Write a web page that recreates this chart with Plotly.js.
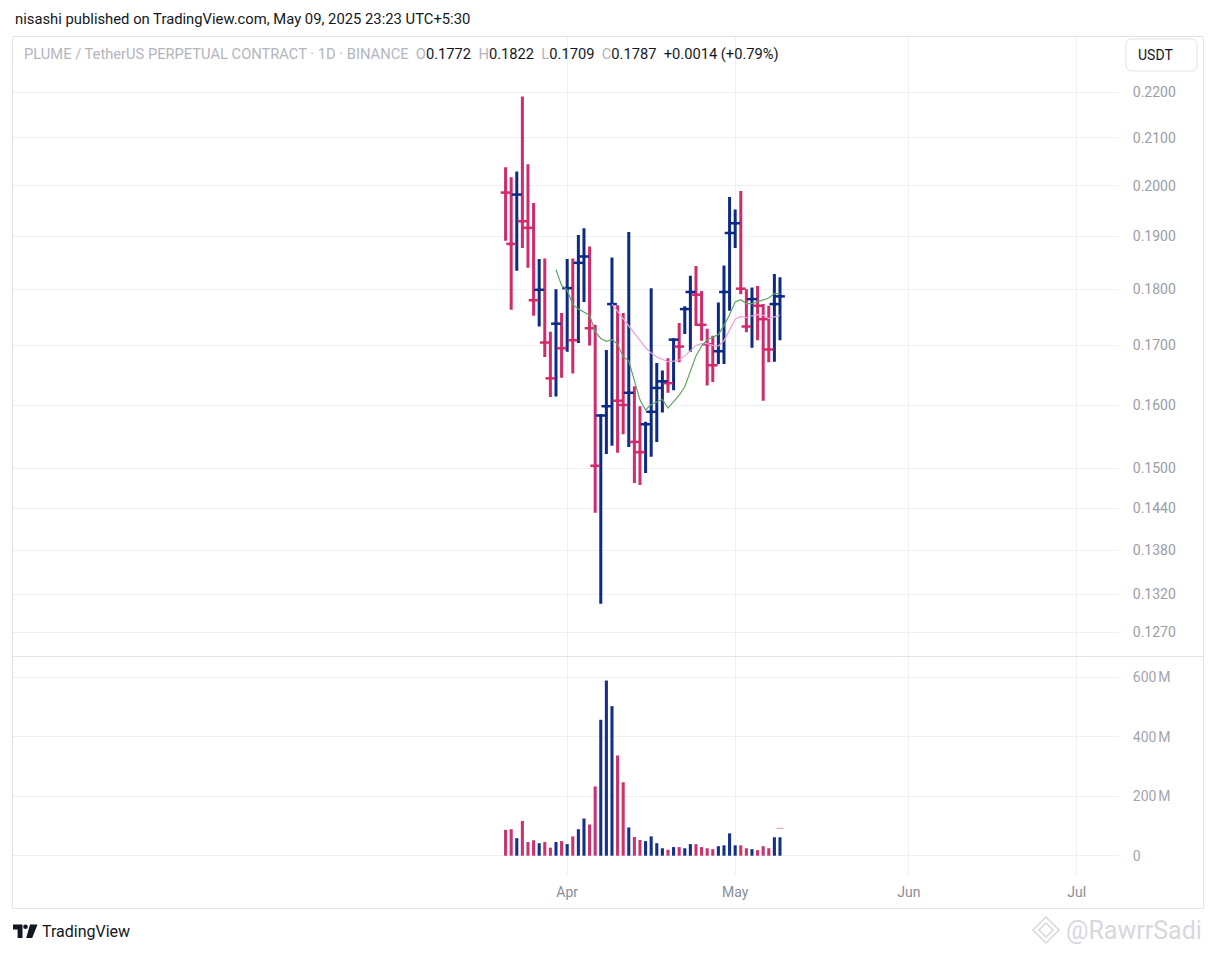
<!DOCTYPE html>
<html><head><meta charset="utf-8">
<script src="https://cdn.plot.ly/plotly-3.0.1.min.js"></script>
<style>html,body{margin:0;padding:0;background:#fff;}#chart{width:1216px;height:953px;}</style>
</head><body><div id="chart"></div>
<script>
const dates = [
'2025-03-21','2025-03-22','2025-03-23','2025-03-24','2025-03-25','2025-03-26','2025-03-27','2025-03-28','2025-03-29','2025-03-30','2025-03-31',
'2025-04-01','2025-04-02','2025-04-03','2025-04-04','2025-04-05','2025-04-06','2025-04-07','2025-04-08','2025-04-09','2025-04-10',
'2025-04-11','2025-04-12','2025-04-13','2025-04-14','2025-04-15','2025-04-16','2025-04-17','2025-04-18','2025-04-19','2025-04-20',
'2025-04-21','2025-04-22','2025-04-23','2025-04-24','2025-04-25','2025-04-26','2025-04-27','2025-04-28','2025-04-29','2025-04-30',
'2025-05-01','2025-05-02','2025-05-03','2025-05-04','2025-05-05','2025-05-06','2025-05-07','2025-05-08','2025-05-09'];
const high = [0.2038,0.2017,0.2029,0.2190,0.2044,0.1965,0.1856,0.1857,0.1724,0.1800,0.1757,
0.1856,0.1857,0.1902,0.1915,0.1880,0.1736,0.1585,0.1692,0.1859,0.1771,
0.1757,0.1908,0.1631,0.1598,0.1573,0.1802,0.1670,0.1657,0.1678,0.1711,
0.1739,0.1769,0.1825,0.1843,0.1797,0.1729,0.1717,0.1776,0.1844,0.1977,
0.1952,0.1989,0.1800,0.1803,0.1806,0.1773,0.1770,0.1828,0.1822];
const low = [0.1891,0.1763,0.1834,0.1877,0.1840,0.1752,0.1733,0.1680,0.1613,0.1614,0.1645,
0.1689,0.1652,0.1704,0.1777,0.1700,0.1434,0.1307,0.1522,0.1535,0.1524,
0.1553,0.1533,0.1478,0.1475,0.1493,0.1518,0.1541,0.1588,0.1620,0.1624,
0.1671,0.1720,0.1689,0.1734,0.1708,0.1632,0.1638,0.1668,0.1668,0.1761,
0.1877,0.1791,0.1723,0.1696,0.1709,0.1607,0.1671,0.1672,0.1709];
const close = [0.1986,0.1885,0.1982,0.1929,0.1916,0.1780,0.1799,0.1705,0.1644,0.1738,0.1695,
0.1802,0.1709,0.1849,0.1861,0.1730,0.1504,0.1583,0.1598,0.1773,0.1607,
0.1600,0.1620,0.1541,0.1525,0.1569,0.1589,0.1628,0.1639,0.1636,0.1710,
0.1698,0.1764,0.1795,0.1790,0.1736,0.1702,0.1666,0.1690,0.1795,0.1906,
0.1925,0.1801,0.1733,0.1782,0.1770,0.1746,0.1693,0.1773,0.1787];
const lastOpen = 0.1772;
const volumeM = [87,89,59,117,46,52,42,46,27,46,49,
39,65,89,125,105,233,457,589,503,337,
247,95,63,53,49,65,42,25,20,29,
29,25,39,39,29,25,22,32,35,75,
35,35,25,22,19,32,25,62,62];
const ma10 = [0.1836,0.1807,0.1799,0.1772,0.1764,0.1758,0.1753,0.1724,0.1712,0.1707,0.1710,
0.1702,0.1681,0.1673,0.1642,0.1608,0.1592,0.1601,0.1605,0.1609,0.1595,
0.1606,0.1616,0.1630,0.1655,0.1682,0.1699,0.1710,0.1714,0.1719,0.1735,
0.1754,0.1777,0.1781,0.1774,0.1774,0.1777,0.1781,0.1784,0.1792,0.1792];
const ma20 = [0.1773,0.1760,0.1747,0.1734,0.1722,0.1708,0.1696,0.1687,0.1680,0.1676,0.1672,
0.1673,0.1675,0.1682,0.1691,0.1700,0.1703,0.1703,0.1700,0.1699,0.1708,
0.1727,0.1746,0.1751,0.1749,0.1752,0.1754,0.1753,0.1747,0.1750,0.1753];
const volMaDates = ['2025-05-09'];
const volMaM = [92];
const priceTicks = [0.22,0.21,0.20,0.19,0.18,0.17,0.16,0.15,0.144,0.138,0.132,0.127];
const priceTickText = ['0.2200','0.2100','0.2000','0.1900','0.1800','0.1700','0.1600','0.1500','0.1440','0.1380','0.1320','0.1270'];
const volTicks = [0,200,400,600];
const volTickText = ['0','200\u202fM','400\u202fM','600\u202fM'];
const monthTicks = ['2025-04-01','2025-05-01','2025-06-01','2025-07-01'];
const monthText = ['Apr','May','Jun','Jul'];

const W = 1216, H = 953;
const px = x => x / W, py = y => 1 - y / H;
const UP = '#0d2b85', DOWN = '#d02c6d';
const VUP = '#13308a', VDOWN = '#c9336e';

const isUp = close.map((c, i) => i > 0 && c >= close[i - 1]);
const upIdx = [], dnIdx = [];
isUp.forEach((u, i) => (u ? upIdx : dnIdx).push(i));

function ohlcTrace(idx, color) {
  return {
    type: 'ohlc', xaxis: 'x', yaxis: 'y',
    x: idx.map(i => dates[i]),
    open: idx.map(i => close[i]),
    high: idx.map(i => high[i]),
    low: idx.map(i => low[i]),
    close: idx.map(i => close[i]),
    line: {width: 3},
    increasing: {line: {color: color, width: 3}},
    decreasing: {line: {color: color, width: 3}},
    tickwidth: 0.3, hoverinfo: 'skip', showlegend: false
  };
}
function closeTicks(idx, color) {
  return {
    type: 'scatter', mode: 'markers', xaxis: 'x', yaxis: 'y',
    x: idx.map(i => dates[i]), y: idx.map(i => close[i]),
    marker: {symbol: 'line-ew', size: 7, line: {color: color, width: 2.5}},
    hoverinfo: 'skip', showlegend: false
  };
}

const traces = [
  {type: 'bar', xaxis: 'x', yaxis: 'y2', x: dates, y: volumeM,
   width: 0.55 * 86400000,
   marker: {color: isUp.map(u => u ? VUP : VDOWN), line: {width: 0}},
   hoverinfo: 'skip', showlegend: false},
  {type: 'scatter', mode: 'markers', xaxis: 'x', yaxis: 'y2', x: volMaDates, y: volMaM,
   marker: {symbol: 'line-ew', size: 5, line: {color: '#e58fb0', width: 1}},
   hoverinfo: 'skip', showlegend: false},
  ohlcTrace(dnIdx, DOWN),
  ohlcTrace(upIdx, UP),
  closeTicks(dnIdx, DOWN),
  closeTicks(upIdx, UP),
  {type: 'scatter', mode: 'lines', xaxis: 'x', yaxis: 'y', x: dates.slice(19), y: ma20,
   line: {color: '#e6a3d9', width: 1.2}, hoverinfo: 'skip', showlegend: false},
  {type: 'scatter', mode: 'lines', xaxis: 'x', yaxis: 'y', x: dates.slice(9), y: ma10,
   line: {color: '#5fa463', width: 1.2}, hoverinfo: 'skip', showlegend: false}
];

const grid = '#eef0f4';
const L = close.length - 1;
const chg = close[L] - close[L - 1];
const pct = chg / close[L - 1] * 100;
const g = s => '<span style="color:#b2b5be">' + s + '</span>';
const n = v => (+v).toFixed(4);
const legendText = g('PLUME / TetherUS PERPETUAL CONTRACT · 1D · BINANCE') + '\u00a0\u00a0' +
  g('O') + n(lastOpen) + '\u00a0\u00a0' + g('H') + n(high[L]) + '\u00a0\u00a0' +
  g('L') + n(low[L]) + '\u00a0\u00a0' + g('C') + n(close[L]) + '\u00a0\u00a0' +
  (chg >= 0 ? '+' : '') + chg.toFixed(4) + ' (' + (pct >= 0 ? '+' : '') + pct.toFixed(2) + '%)';

function pathPx(p) {
  return p.replace(/([MLHVQZ])([^MLHVQZ]*)/g, function (m, cmd, args) {
    const nums = args.trim().length ? args.trim().split(/[\s,]+/).map(Number) : [];
    let out = [];
    if (cmd === 'H') out = nums.map(v => px(v).toFixed(6));
    else if (cmd === 'V') out = nums.map(v => py(v).toFixed(6));
    else for (let i = 0; i < nums.length; i += 2) out.push(px(nums[i]).toFixed(6) + ',' + py(nums[i + 1]).toFixed(6));
    return cmd + out.join(' ');
  });
}

const F = 'Roboto, "Liberation Sans", sans-serif';
const layout = {
  width: W, height: H,
  margin: {l: 0, r: 0, t: 0, b: 0},
  paper_bgcolor: '#ffffff', plot_bgcolor: '#ffffff',
  showlegend: false, hovermode: false, dragmode: false,
  font: {family: F, size: 14, color: '#131722'},
  xaxis: {
    type: 'date', domain: [px(12), px(1119)],
    range: ['2024-12-22 20:38:00', '2025-07-08 12:58:00'],
    anchor: 'y2', rangeslider: {visible: false},
    tickmode: 'array', tickvals: monthTicks, ticktext: monthText,
    ticks: 'outside', ticklen: 4, tickcolor: 'rgba(0,0,0,0)',
    tickfont: {family: F, size: 14, color: '#8a8d96'},
    showgrid: true, gridcolor: grid, gridwidth: 1,
    showline: false, zeroline: false, fixedrange: true
  },
  yaxis: {
    type: 'log', domain: [py(656), py(36)],
    range: [Math.log10(0.12394), Math.log10(0.23290)],
    side: 'right', anchor: 'x',
    tickmode: 'array', tickvals: priceTicks, ticktext: priceTickText,
    ticks: 'outside', ticklen: 10, tickcolor: 'rgba(0,0,0,0)',
    tickfont: {family: F, size: 14, color: '#9a9da6'},
    showgrid: true, gridcolor: grid, gridwidth: 1,
    showline: false, zeroline: false, fixedrange: true
  },
  yaxis2: {
    domain: [py(875), py(656)],
    range: [-64.9, 671.6],
    side: 'right', anchor: 'x',
    tickmode: 'array', tickvals: volTicks, ticktext: volTickText,
    ticks: 'outside', ticklen: 10, tickcolor: 'rgba(0,0,0,0)',
    tickfont: {family: F, size: 14, color: '#a3a6af'},
    showgrid: true, gridcolor: grid, gridwidth: 1,
    showline: false, zeroline: false, fixedrange: true
  },
  shapes: [
    {type: 'rect', xref: 'paper', yref: 'paper', x0: px(12.5), x1: px(1203.5), y0: py(36.5), y1: py(908.5),
     line: {color: '#e0e3eb', width: 1}, fillcolor: 'rgba(0,0,0,0)', layer: 'above'},
    {type: 'line', xref: 'paper', yref: 'paper', x0: px(12.5), x1: px(1203.5), y0: py(656.5), y1: py(656.5),
     line: {color: '#e0e3eb', width: 1}},
    {type: 'path', xref: 'paper', yref: 'paper',
     path: pathPx('M1132,39 H1191 Q1197,39 1197,45 V65 Q1197,71 1191,71 H1132 Q1126,71 1126,65 V45 Q1126,39 1132,39 Z'),
     line: {color: '#e0e3eb', width: 1}, fillcolor: '#ffffff', layer: 'above'},
    {type: 'path', xref: 'paper', yref: 'paper',
     path: pathPx('M13,924.5 H22.5 V938 H17.6 V929.4 H13 Z'),
     line: {width: 0}, fillcolor: '#131722'},
    {type: 'circle', xref: 'paper', yref: 'paper', x0: px(23.2), x1: px(27.8), y0: py(924.5), y1: py(929.1),
     line: {width: 0}, fillcolor: '#131722'},
    {type: 'path', xref: 'paper', yref: 'paper',
     path: pathPx('M30,924.5 H37.5 L32.2,938 H26.2 Z'),
     line: {width: 0}, fillcolor: '#131722'},
    {type: 'path', xref: 'paper', yref: 'paper',
     path: pathPx('M1046,917 L1059,930 L1046,943 L1033,930 Z M1046,923 L1053,930 L1046,937 L1039,930 Z'),
     line: {color: '#d6d8de', width: 1.5}, fillcolor: 'rgba(0,0,0,0)'}
  ],
  annotations: [
    {xref: 'paper', yref: 'paper', x: px(13), y: py(19), xanchor: 'left', yanchor: 'middle', showarrow: false,
     text: 'nisashi published on TradingView.com, May 09, 2025 23:23 UTC+5:30',
     font: {family: F, size: 14.8, color: '#131722'}},
    {xref: 'paper', yref: 'paper', x: px(22), y: py(54), xanchor: 'left', yanchor: 'middle', showarrow: false,
     text: legendText, font: {family: F, size: 14.7, color: '#131722'}},
    {xref: 'paper', yref: 'paper', x: px(1136), y: py(55), xanchor: 'left', yanchor: 'middle', showarrow: false,
     text: 'USDT', font: {family: F, size: 14, color: '#131722'}},
    {xref: 'paper', yref: 'paper', x: px(40), y: py(931.5), xanchor: 'left', yanchor: 'middle', showarrow: false,
     text: 'TradingView', font: {family: F, size: 16, color: '#131722'}},
    {xref: 'paper', yref: 'paper', x: px(1064), y: py(930), xanchor: 'left', yanchor: 'middle', showarrow: false,
     text: '@RawrrSadi', font: {family: F, size: 25, color: '#d6d8de'}}
  ]
};

Plotly.newPlot('chart', traces, layout, {staticPlot: true, displayModeBar: false});
</script>
</body></html>
